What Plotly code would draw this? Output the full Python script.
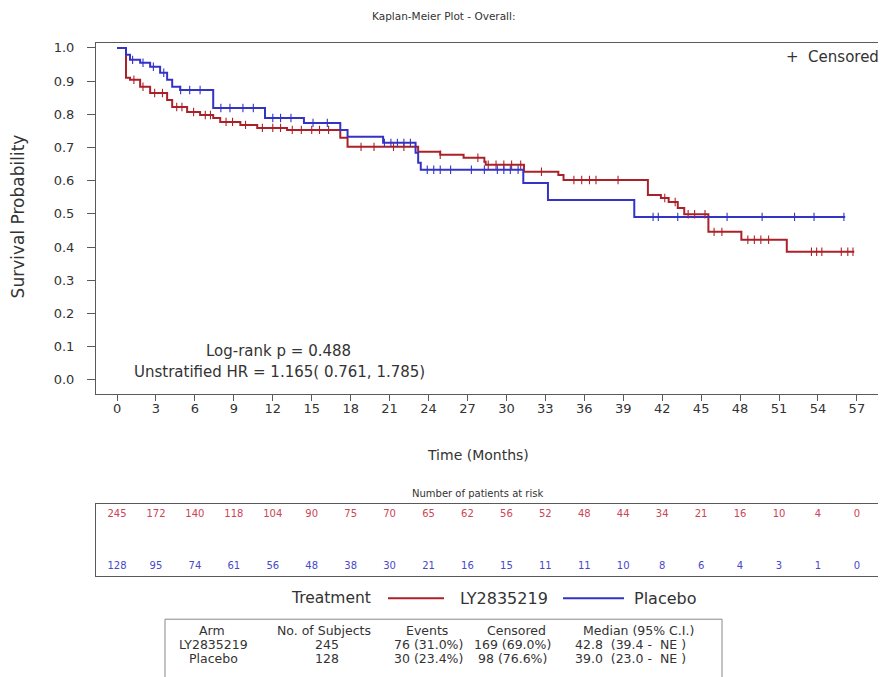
import plotly.graph_objects as go

W, H = 886, 677

# ---- data ----
red_name = "LY2835219"
blue_name = "Placebo"

red_t = [0, 0.69, 1.0, 1.78, 2.55, 3.86, 4.25, 5.4, 6.4, 7.41, 7.95, 9.5, 10.8, 13.1,
         17.2, 17.76, 23.2, 24.9, 26.7, 28.3, 28.4, 31.35, 34.0, 34.4, 40.9, 41.9, 42.5,
         43.2, 43.7, 45.56, 48.1, 51.6]
red_s = [1.0, 0.910, 0.904, 0.883, 0.864, 0.843, 0.822, 0.807, 0.798, 0.789, 0.777, 0.768,
         0.759, 0.753, 0.729, 0.702, 0.687, 0.678, 0.669, 0.657, 0.648, 0.627, 0.617, 0.602,
         0.557, 0.548, 0.536, 0.518, 0.499, 0.446, 0.422, 0.386]
red_end = 56.8

blue_t = [0, 0.69, 1.0, 1.78, 2.55, 3.32, 3.86, 4.25, 4.86, 7.41, 11.4, 14.4, 17.2, 17.76,
          20.5, 23.0, 23.2, 23.4, 31.3, 33.2, 39.85]
blue_s = [1.0, 0.979, 0.964, 0.955, 0.943, 0.925, 0.904, 0.883, 0.873, 0.819, 0.789, 0.774,
          0.753, 0.732, 0.714, 0.684, 0.654, 0.633, 0.593, 0.542, 0.491]
blue_end = 56.1

red_cens = [1.3, 2.0, 2.9, 3.5, 4.6, 5.0, 5.9, 6.8, 7.2, 8.4, 8.9, 9.9, 11.2, 12.0, 12.6,
            13.5, 14.2, 15.0, 15.6, 16.3, 18.8, 19.8, 21.3, 22.1, 24.9, 27.8, 28.6, 29.2,
            29.8, 30.4, 31.1, 32.7, 35.2, 35.8, 36.4, 36.9, 38.6, 42.2, 43.0, 44.0, 44.5,
            45.3, 46.0, 46.6, 48.6, 49.1, 49.6, 50.2, 53.5, 53.9, 54.3, 55.8, 56.3, 56.7]
blue_cens = [1.2, 2.0, 2.8, 3.6, 4.9, 5.6, 6.4, 8.0, 8.7, 9.7, 10.5, 12.0, 12.6, 13.4,
             15.1, 16.2, 20.6, 21.1, 21.6, 22.1, 22.6, 23.9, 24.4, 24.9, 25.7, 27.3, 28.3,
             29.3, 29.8, 30.3, 30.9, 41.3, 41.7, 43.2, 47.0, 49.7, 52.2, 53.7, 56.0]

risk_times = list(range(0, 58, 3))
red_risk = [245, 172, 140, 118, 104, 90, 75, 70, 65, 62, 56, 52, 48, 44, 34, 21, 16, 10, 4, 0]
blue_risk = [128, 95, 74, 61, 56, 48, 38, 30, 21, 16, 15, 11, 11, 10, 8, 6, 4, 3, 1, 0]

y_ticks = [round(0.1 * i, 1) for i in range(11)]

table_header = ["Arm", "No. of Subjects", "Events", "Censored", "Median (95% C.I.)"]
table_rows = [
    ["LY2835219", "245", "76 (31.0%)", "169 (69.0%)", "42.8  (39.4 -  NE )"],
    ["Placebo", "128", "30 (23.4%)", "98 (76.6%)", "39.0  (23.0 -  NE )"],
]

# ---- styling ----
RED = "#ab2129"
BLUE = "#3333c6"
RED_TXT = "#cc4456"
BLUE_TXT = "#4848c8"
AX = "#5a5a5a"
TXT = "#333333"
FONT = "DejaVu Sans, Verdana, sans-serif"


def px(x):
    return x / W


def py(y):
    return 1 - y / H


def surv_at(t, ts, ss):
    v = ss[0]
    for ti, si in zip(ts, ss):
        if ti <= t:
            v = si
    return v


fig = go.Figure()

fig.add_trace(go.Scatter(x=red_t + [red_end], y=red_s + [red_s[-1]], mode="lines",
                         line=dict(color=RED, width=2, shape="hv"), showlegend=False,
                         xaxis="x", yaxis="y"))
fig.add_trace(go.Scatter(x=blue_t + [blue_end], y=blue_s + [blue_s[-1]], mode="lines",
                         line=dict(color=BLUE, width=2, shape="hv"), showlegend=False,
                         xaxis="x", yaxis="y"))
fig.add_trace(go.Scatter(x=red_cens, y=[surv_at(t, red_t, red_s) for t in red_cens],
                         mode="markers", marker=dict(symbol="line-ns", size=6,
                                                     line=dict(color=RED, width=1.1)),
                         showlegend=False, xaxis="x", yaxis="y"))
fig.add_trace(go.Scatter(x=blue_cens, y=[surv_at(t, blue_t, blue_s) for t in blue_cens],
                         mode="markers", marker=dict(symbol="line-ns", size=6,
                                                     line=dict(color=BLUE, width=1.1)),
                         showlegend=False, xaxis="x", yaxis="y"))

# risk table
fig.add_trace(go.Scatter(x=risk_times, y=[0.85] * len(risk_times), mode="text",
                         text=[str(v) for v in red_risk],
                         textfont=dict(color=RED_TXT, size=10, family=FONT),
                         showlegend=False, xaxis="x2", yaxis="y2"))
fig.add_trace(go.Scatter(x=risk_times, y=[0.14] * len(risk_times), mode="text",
                         text=[str(v) for v in blue_risk],
                         textfont=dict(color=BLUE_TXT, size=10, family=FONT),
                         showlegend=False, xaxis="x2", yaxis="y2"))

xr = [-1.62, 59.86]
x_dom = [px(88), 1.0]

fig.update_layout(
    width=W, height=H,
    margin=dict(l=0, r=0, t=0, b=0),
    paper_bgcolor="white", plot_bgcolor="white",
    font=dict(family=FONT, color=TXT, size=13),
    xaxis=dict(domain=x_dom, range=xr, tickvals=risk_times, ticks="outside", ticklen=6,
               tickcolor=AX, showline=True, linecolor=AX, linewidth=1, mirror=True,
               showgrid=False, zeroline=False, tickfont=dict(size=13, color=TXT),
               ticklabelstandoff=-3, anchor="y"),
    yaxis=dict(domain=[py(385), py(33)], range=[-0.042, 1.015], tickvals=y_ticks,
               tickformat=".1f", ticks="outside", ticklen=8, tickcolor=AX, showline=True,
               linecolor=AX, linewidth=1, mirror=False, showgrid=False, zeroline=False,
               tickfont=dict(size=13, color=TXT), ticklabelstandoff=10, anchor="x"),
    xaxis2=dict(domain=x_dom, range=xr, matches="x", showticklabels=False, ticks="",
                showline=True, linecolor=AX, linewidth=1.2, mirror=True, showgrid=False,
                zeroline=False, anchor="y2"),
    yaxis2=dict(domain=[py(568), py(495)], range=[0, 1], showticklabels=False, ticks="",
                showline=True, linecolor=AX, linewidth=1, mirror=False, showgrid=False,
                zeroline=False, anchor="x2"),
)

ann = []


def add_text(x, y, text, size, xanchor="center", color=TXT, textangle=0):
    ann.append(dict(x=px(x), y=py(y), xref="paper", yref="paper", text=text,
                    showarrow=False, xanchor=xanchor, yanchor="middle",
                    font=dict(size=size, color=color, family=FONT), textangle=textangle))


add_text(435, 6, "Kaplan-Meier Plot - Overall:", 10.5)
add_text(873, 47, "+  Censored", 15, xanchor="right")
add_text(10, 207, "Survival Probability", 17, textangle=-90)
add_text(470, 446, "Time (Months)", 14)
add_text(469, 485, "Number of patients at risk", 10)
add_text(270, 342, "Log-rank p = 0.488", 15)
add_text(271, 363, "Unstratified HR = 1.165( 0.761, 1.785)", 15)

# legend
add_text(365, 590, "Treatment", 15.5, xanchor="right")
add_text(450, 590, red_name, 16, xanchor="left")
add_text(624, 590, blue_name, 16, xanchor="left")

shapes = [
    dict(type="line", xref="paper", yref="paper", x0=px(380), x1=px(436), y0=py(590), y1=py(590),
         line=dict(color=RED, width=2)),
    dict(type="line", xref="paper", yref="paper", x0=px(555), x1=px(616), y0=py(590), y1=py(590),
         line=dict(color=BLUE, width=2)),
    dict(type="rect", xref="paper", yref="paper", x0=px(157), x1=px(714), y0=py(611), y1=py(700),
         line=dict(color="#888888", width=1)),
]

# bottom summary table
head_x = [204, 316, 419, 508, 630]
cell_x = [205, 319, 420, 505, 622]
row_y = [622, 636, 650]
for cx, h in zip(head_x, table_header):
    add_text(cx, row_y[0], h, 12.5)
for r, row in enumerate(table_rows):
    for cx, v in zip(cell_x, row):
        add_text(cx, row_y[r + 1], v, 12.5)

fig.update_layout(annotations=ann, shapes=shapes)

fig.write_html("out.html")
